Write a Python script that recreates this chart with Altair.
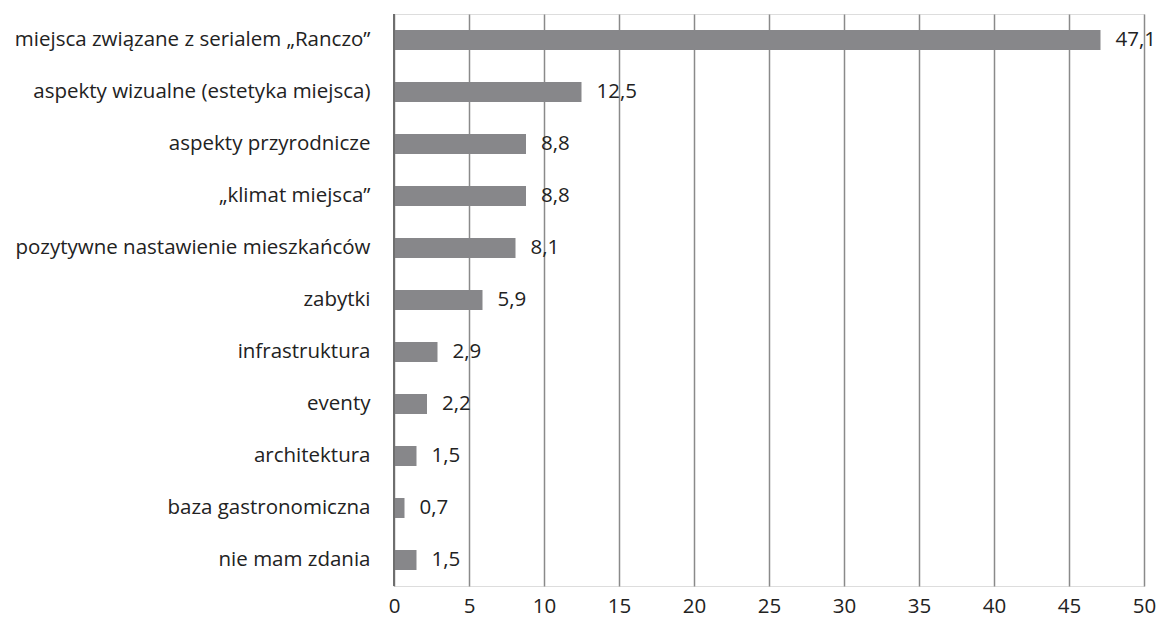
import altair as alt
import pandas as pd

categories = [
    "miejsca związane z serialem „Ranczo”",
    "aspekty wizualne (estetyka miejsca)",
    "aspekty przyrodnicze",
    "„klimat miejsca”",
    "pozytywne nastawienie mieszkańców",
    "zabytki",
    "infrastruktura",
    "eventy",
    "architektura",
    "baza gastronomiczna",
    "nie mam zdania",
]
values = [47.1, 12.5, 8.8, 8.8, 8.1, 5.9, 2.9, 2.2, 1.5, 0.7, 1.5]
x_ticks = [0, 5, 10, 15, 20, 25, 30, 35, 40, 45, 50]

df = pd.DataFrame({"category": categories, "value": values})
df["label"] = [f"{v:.1f}".replace(".", ",") for v in values]

FONT = "Open Sans"
FS = 20.5
GRAY = "#87878a"

y_enc = alt.Y(
    "category:N",
    sort=categories,
    title=None,
    scale=alt.Scale(paddingInner=0.615, paddingOuter=0.3075),
    axis=alt.Axis(
        domain=False, ticks=False, labelPadding=24, labelLimit=0,
        labelFont=FONT, labelFontSize=FS, labelColor="#222222",
    ),
)
x_enc = alt.X(
    "value:Q",
    title=None,
    scale=alt.Scale(domain=[0, 50], nice=False),
    axis=alt.Axis(
        values=x_ticks, grid=True, gridColor="#8a8a8a", gridWidth=1.5,
        domain=False, ticks=False, labelPadding=10, labelFlush=False,
        labelFont=FONT, labelFontSize=FS, labelColor="#222222",
    ),
)

bars = alt.Chart(df).mark_bar(color=GRAY, size=20).encode(x=x_enc, y=y_enc)
text = alt.Chart(df).mark_text(
    align="left", baseline="middle", dx=15, font=FONT, fontSize=FS, color="#222222"
).encode(x="value:Q", y=alt.Y("category:N", sort=categories), text="label:N")
zero = alt.Chart(df).mark_rule(color="#6e6e6e", strokeWidth=2).encode(x=alt.datum(0))

chart = alt.layer(bars, zero, text).properties(
    width=750,
    height=572,
    autosize=alt.AutoSizeParams(type="none"),
    padding={"left": 394, "top": 14, "right": 16, "bottom": 40},
).configure_view(stroke=None).configure(background="white")

chart.save("out.html", embed_options={"renderer": "svg", "actions": False})
